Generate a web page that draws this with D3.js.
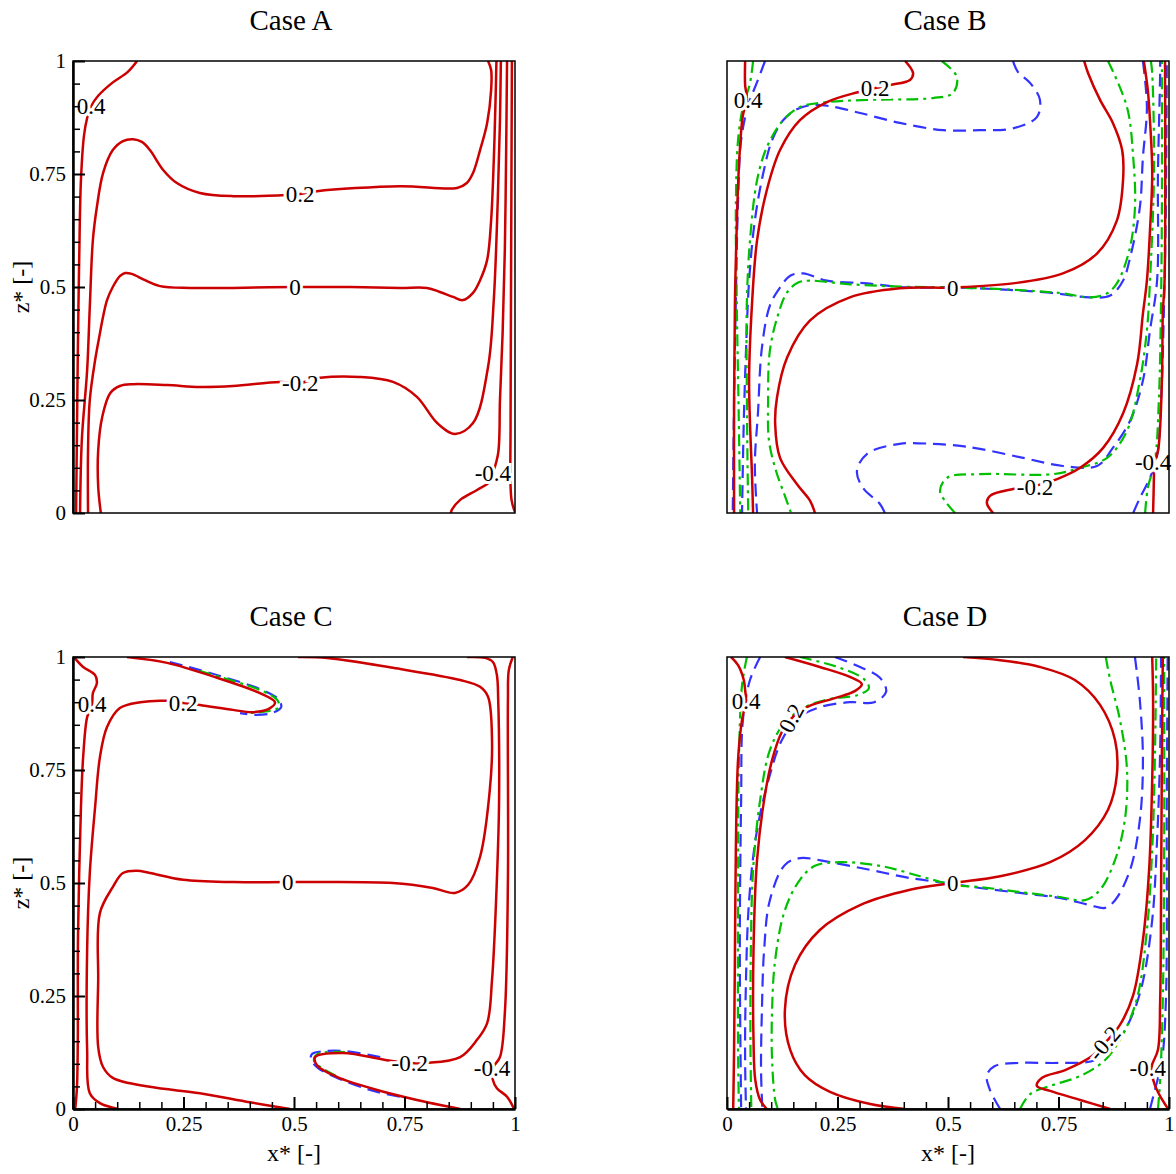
<!DOCTYPE html>
<html>
<head>
<meta charset="utf-8">
<script src="https://cdn.jsdelivr.net/npm/d3@7"></script>
<style>
body { margin: 0; background: #fff; }
text { font-family: "Liberation Serif", "Times New Roman", serif; fill: #000; }
</style>
</head>
<body>
<svg></svg>
<script>
const width = 1176;
const height = 1174;
const plotW = 442;
const plotH = 452;

// each contour is a list of [x*, z*] points
const caseA_red = [
    [[0.145,1],[0.124,0.976],[0.088,0.951],[0.057,0.923],[0.041,0.9],[0.032,0.874],[0.025,0.836],[0.018,0.737],[0.014,0.56],[0.011,0.361],[0.009,0.184],[0.007,0]],
    [[0.016,0],[0.02,0.162],[0.032,0.316],[0.038,0.456],[0.045,0.604],[0.054,0.677],[0.068,0.752],[0.09,0.803],[0.113,0.823],[0.136,0.827],[0.156,0.821],[0.174,0.803],[0.204,0.759],[0.235,0.73],[0.287,0.708],[0.362,0.701],[0.514,0.706],[0.552,0.712],[0.74,0.723],[0.869,0.719],[0.891,0.73],[0.905,0.752],[0.921,0.803],[0.937,0.863],[0.946,0.936],[0.946,0.98],[0.939,1]],
    [[0.034,0],[0.034,0.139],[0.038,0.25],[0.05,0.338],[0.061,0.398],[0.068,0.434],[0.077,0.471],[0.09,0.5],[0.106,0.524],[0.118,0.531],[0.133,0.529],[0.163,0.515],[0.197,0.502],[0.265,0.498],[0.362,0.498],[0.502,0.5],[0.627,0.5],[0.74,0.498],[0.801,0.498],[0.83,0.489],[0.86,0.478],[0.882,0.471],[0.905,0.487],[0.921,0.515],[0.937,0.56],[0.946,0.648],[0.952,0.781],[0.956,0.914],[0.958,1]],
    [[0.063,0],[0.057,0.058],[0.057,0.139],[0.066,0.212],[0.084,0.265],[0.106,0.281],[0.136,0.285],[0.213,0.283],[0.287,0.279],[0.362,0.281],[0.468,0.29],[0.514,0.288],[0.559,0.299],[0.649,0.301],[0.724,0.29],[0.778,0.257],[0.824,0.199],[0.864,0.175],[0.905,0.199],[0.939,0.323],[0.952,0.471],[0.961,0.692],[0.966,0.869],[0.968,1]],
    [[0.855,0],[0.857,0.007],[0.876,0.029],[0.914,0.051],[0.943,0.069],[0.95,0.088],[0.962,0.133],[0.966,0.25],[0.972,0.398],[0.977,0.582],[0.98,0.803],[0.982,1]],
    [[1,0.002],[0.992,0.03],[0.99,0.2],[0.991,0.5],[0.993,1]]
];
const caseA_green = [];
const caseA_blue = [];
const caseA_labels = [['0.4',0.041,0.9,0],['0.2',0.514,0.706,0],['0',0.502,0.5,0],['-0.2',0.514,0.288,0],['-0.4',0.95,0.089,0]];

const caseB_red = [
    [[0.041,1],[0.041,0.947],[0.045,0.914],[0.036,0.88],[0.029,0.803],[0.023,0.67],[0.018,0.47],[0.016,0.248],[0.016,0]],
    [[0.403,1],[0.421,0.973],[0.414,0.958],[0.369,0.947],[0.335,0.94],[0.296,0.931],[0.226,0.909],[0.165,0.869],[0.12,0.803],[0.09,0.714],[0.068,0.603],[0.057,0.47],[0.05,0.293],[0.057,0.071],[0.059,0]],
    [[0.199,0],[0.188,0.027],[0.158,0.064],[0.12,0.122],[0.109,0.197],[0.113,0.255],[0.136,0.344],[0.188,0.426],[0.278,0.477],[0.391,0.497],[0.511,0.499],[0.647,0.508],[0.76,0.53],[0.837,0.574],[0.882,0.647],[0.896,0.736],[0.894,0.803],[0.873,0.863],[0.844,0.914],[0.817,0.973],[0.808,1]],
    [[0.602,0],[0.588,0.022],[0.595,0.038],[0.647,0.053],[0.697,0.06],[0.747,0.075],[0.799,0.1],[0.851,0.144],[0.896,0.22],[0.928,0.33],[0.941,0.441],[0.95,0.514],[0.957,0.625],[0.962,0.752],[0.957,0.869],[0.952,0.936],[0.943,1]],
    [[0.964,0],[0.966,0.086],[0.966,0.111],[0.975,0.137],[0.984,0.293],[0.986,0.441],[0.99,0.514],[0.991,1]]
];
const caseB_green = [
    [[0.059,1],[0.052,0.951],[0.036,0.898],[0.025,0.825],[0.02,0.676],[0.022,0.47],[0.026,0.248],[0.03,0]],
    [[0.486,1],[0.52,0.965],[0.511,0.929],[0.466,0.918],[0.317,0.914],[0.226,0.909],[0.165,0.898],[0.127,0.869],[0.09,0.809],[0.068,0.736],[0.052,0.603],[0.045,0.47],[0.045,0.248],[0.048,0]],
    [[0.862,1],[0.905,0.898],[0.919,0.787],[0.923,0.676],[0.91,0.58],[0.882,0.508],[0.86,0.486],[0.821,0.477],[0.76,0.486],[0.647,0.494],[0.511,0.499],[0.391,0.501],[0.278,0.506],[0.188,0.514],[0.161,0.51],[0.136,0.488],[0.115,0.437],[0.097,0.359],[0.093,0.248],[0.095,0.16],[0.111,0.093],[0.131,0.038],[0.145,0]],
    [[0.516,0],[0.493,0.027],[0.482,0.049],[0.498,0.078],[0.572,0.086],[0.738,0.086],[0.799,0.1],[0.86,0.122],[0.905,0.182],[0.934,0.293],[0.95,0.404],[0.957,0.514],[0.966,0.752],[0.962,0.973],[0.959,1]],
    [[0.946,0],[0.952,0.055],[0.968,0.115],[0.977,0.248],[0.982,0.47],[0.984,0.692],[0.984,1]]
];
const caseB_blue = [
    [[0.086,1],[0.07,0.958],[0.048,0.902],[0.032,0.825],[0.025,0.692],[0.02,0.47],[0.016,0.248],[0.013,0]],
    [[0.647,1],[0.658,0.976],[0.686,0.951],[0.708,0.914],[0.701,0.876],[0.647,0.851],[0.572,0.847],[0.489,0.847],[0.391,0.863],[0.301,0.885],[0.233,0.9],[0.188,0.902],[0.154,0.891],[0.127,0.869],[0.102,0.825],[0.081,0.747],[0.063,0.647],[0.05,0.514],[0.043,0.359],[0.038,0.204],[0.034,0]],
    [[0.941,1],[0.95,0.898],[0.941,0.787],[0.934,0.676],[0.912,0.565],[0.896,0.514],[0.867,0.481],[0.821,0.477],[0.724,0.488],[0.572,0.497],[0.511,0.499],[0.407,0.499],[0.317,0.508],[0.226,0.514],[0.172,0.53],[0.143,0.525],[0.12,0.499],[0.097,0.459],[0.079,0.366],[0.07,0.22],[0.063,0.109],[0.068,0]],
    [[0.357,0],[0.346,0.02],[0.308,0.055],[0.294,0.093],[0.317,0.131],[0.391,0.153],[0.466,0.153],[0.523,0.149],[0.572,0.142],[0.67,0.122],[0.76,0.104],[0.837,0.104],[0.873,0.144],[0.912,0.204],[0.941,0.293],[0.957,0.404],[0.973,0.514],[0.975,0.752],[0.98,0.973],[0.98,1]],
    [[0.919,0],[0.934,0.033],[0.957,0.078],[0.973,0.126],[0.982,0.248],[0.989,0.47],[0.993,0.692],[0.995,1]]
];
const caseB_labels = [['0.4',0.048,0.914,0],['0.2',0.335,0.94,0],['0',0.511,0.499,0],['-0.2',0.697,0.057,0],['-0.4',0.964,0.113,0]];

const caseC_red = [
    [[0.002,1],[0.023,0.978],[0.05,0.96],[0.054,0.942],[0.045,0.92],[0.043,0.896],[0.032,0.867],[0.023,0.779],[0.018,0.668],[0.014,0.522],[0.011,0.352],[0.011,0.175],[0.009,0.049],[0.005,0]],
    [[0.122,1],[0.213,0.987],[0.326,0.954],[0.423,0.92],[0.457,0.9],[0.446,0.887],[0.407,0.878],[0.362,0.883],[0.287,0.894],[0.249,0.898],[0.213,0.903],[0.152,0.9],[0.106,0.887],[0.077,0.845],[0.061,0.779],[0.05,0.668],[0.038,0.522],[0.032,0.352],[0.032,0.131],[0.038,0.035],[0.061,0.013],[0.102,0]],
    [[0.509,1],[0.575,0.998],[0.724,0.976],[0.876,0.949],[0.921,0.934],[0.939,0.912],[0.948,0.816],[0.943,0.706],[0.921,0.558],[0.894,0.496],[0.864,0.478],[0.814,0.489],[0.724,0.5],[0.498,0.502],[0.362,0.502],[0.249,0.507],[0.174,0.522],[0.145,0.527],[0.113,0.522],[0.09,0.491],[0.061,0.434],[0.057,0.285],[0.057,0.137],[0.068,0.093],[0.09,0.069],[0.174,0.049],[0.287,0.035],[0.4,0.015],[0.491,0]],
    [[0.891,1],[0.932,0.998],[0.95,0.989],[0.959,0.96],[0.962,0.905],[0.964,0.684],[0.959,0.507],[0.948,0.285],[0.937,0.19],[0.914,0.153],[0.876,0.115],[0.801,0.102],[0.762,0.102],[0.71,0.108],[0.611,0.124],[0.548,0.115],[0.552,0.097],[0.597,0.071],[0.688,0.042],[0.778,0.02],[0.876,0]],
    [[0.995,1],[0.986,0.971],[0.984,0.905],[0.984,0.507],[0.977,0.212],[0.966,0.115],[0.95,0.091],[0.95,0.064],[0.959,0.046],[0.982,0.027],[0.998,0]]
];
const caseC_green = [
    [[0.287,0.969],[0.428,0.925],[0.462,0.905],[0.466,0.889],[0.446,0.881],[0.4,0.876]],
    [[0.615,0.126],[0.554,0.122],[0.545,0.108],[0.559,0.093],[0.604,0.069]]
];
const caseC_blue = [
    [[0.219,0.989],[0.333,0.958],[0.428,0.927],[0.464,0.907],[0.471,0.889],[0.45,0.876],[0.412,0.872],[0.378,0.876]],
    [[0.695,0.115],[0.615,0.128],[0.57,0.128],[0.541,0.122],[0.538,0.111],[0.554,0.091],[0.593,0.071],[0.672,0.042],[0.74,0.027]]
];
const caseC_labels = [['0.4',0.043,0.896,0],['0.2',0.249,0.898,0],['0',0.486,0.502,0],['-0.2',0.762,0.102,0],['-0.4',0.948,0.091,0]];

const caseD_red = [
    [[0.009,1],[0.025,0.982],[0.038,0.949],[0.041,0.927],[0.043,0.903],[0.034,0.861],[0.025,0.772],[0.02,0.573],[0.018,0.352],[0.016,0.131],[0.014,0]],
    [[0.131,1],[0.21,0.978],[0.278,0.956],[0.305,0.94],[0.29,0.925],[0.244,0.909],[0.192,0.894],[0.161,0.878],[0.143,0.861],[0.124,0.834],[0.102,0.772],[0.084,0.684],[0.068,0.551],[0.06,0.352],[0.06,0.153],[0.064,0.064],[0.075,0.02],[0.09,0]],
    [[0.534,1],[0.618,0.993],[0.708,0.978],[0.787,0.949],[0.844,0.894],[0.878,0.816],[0.882,0.739],[0.862,0.662],[0.81,0.595],[0.731,0.546],[0.618,0.515],[0.511,0.5],[0.414,0.485],[0.301,0.451],[0.21,0.396],[0.154,0.319],[0.131,0.219],[0.143,0.131],[0.176,0.075],[0.233,0.038],[0.324,0.011],[0.403,0]],
    [[0.867,0],[0.799,0.02],[0.731,0.04],[0.701,0.051],[0.713,0.069],[0.765,0.086],[0.826,0.117],[0.855,0.146],[0.889,0.186],[0.919,0.252],[0.941,0.374],[0.955,0.529],[0.962,0.728],[0.964,0.905],[0.962,1]],
    [[0.986,1],[0.984,0.794],[0.982,0.462],[0.98,0.241],[0.975,0.131],[0.96,0.091],[0.968,0.053],[0.985,0.02],[0.998,0]]
];
const caseD_green = [
    [[0.045,1],[0.034,0.937],[0.027,0.772],[0.025,0.462],[0.025,0.131],[0.027,0]],
    [[0.165,1],[0.256,0.976],[0.31,0.951],[0.321,0.931],[0.296,0.916],[0.233,0.907],[0.176,0.889],[0.131,0.856],[0.097,0.794],[0.075,0.684],[0.059,0.529],[0.054,0.352],[0.053,0.153],[0.055,0]],
    [[0.857,1],[0.867,0.949],[0.889,0.861],[0.905,0.75],[0.9,0.639],[0.878,0.551],[0.844,0.485],[0.81,0.462],[0.753,0.469],[0.663,0.48],[0.572,0.491],[0.511,0.496],[0.437,0.515],[0.346,0.538],[0.256,0.546],[0.199,0.538],[0.165,0.507],[0.131,0.44],[0.109,0.33],[0.102,0.219],[0.102,0.108],[0.109,0.02],[0.115,0]],
    [[0.663,0],[0.686,0.033],[0.731,0.051],[0.799,0.073],[0.855,0.108],[0.894,0.162],[0.928,0.246],[0.95,0.396],[0.962,0.573],[0.968,0.772],[0.971,1]],
    [[0.975,0],[0.98,0.064],[0.986,0.241],[0.989,0.573],[0.989,1]]
];
const caseD_blue = [
    [[0.075,1],[0.052,0.949],[0.036,0.861],[0.032,0.684],[0.029,0.352],[0.032,0]],
    [[0.244,1],[0.301,0.978],[0.346,0.954],[0.36,0.923],[0.333,0.9],[0.278,0.9],[0.21,0.889],[0.161,0.865],[0.124,0.816],[0.097,0.739],[0.068,0.617],[0.05,0.462],[0.042,0.241],[0.041,0.108],[0.043,0]],
    [[0.923,1],[0.934,0.905],[0.941,0.772],[0.934,0.639],[0.912,0.529],[0.878,0.462],[0.855,0.445],[0.821,0.451],[0.753,0.467],[0.663,0.478],[0.572,0.489],[0.511,0.498],[0.414,0.511],[0.324,0.529],[0.233,0.546],[0.165,0.555],[0.131,0.54],[0.097,0.462],[0.084,0.352],[0.079,0.219],[0.077,0.086],[0.08,0]],
    [[0.618,0],[0.595,0.042],[0.588,0.075],[0.606,0.095],[0.663,0.102],[0.753,0.102],[0.833,0.108],[0.878,0.142],[0.912,0.197],[0.939,0.274],[0.962,0.418],[0.973,0.595],[0.98,0.794],[0.982,1]],
    [[0.957,0],[0.968,0.042],[0.984,0.108],[0.993,0.241],[0.995,0.684],[0.997,1]]
];
const caseD_labels = [['0.4',0.043,0.903,0],['0.2',0.145,0.865,-62],['0',0.511,0.5,0],['-0.2',0.853,0.146,-50],['-0.4',0.952,0.091,0]];

const majorTicks = [0, 0.25, 0.5, 0.75, 1];
const tickLabels = ['0', '0.25', '0.5', '0.75', '1'];
const minorTicks = [0.05, 0.1, 0.15, 0.2, 0.3, 0.35, 0.4, 0.45, 0.55, 0.6, 0.65, 0.7, 0.8, 0.85, 0.9, 0.95];

const panels = [
    {title: 'Case A', left: 73, top: 61, red: caseA_red, green: caseA_green, blue: caseA_blue, labels: caseA_labels, yAxis: true, xAxis: false},
    {title: 'Case B', left: 727, top: 61, red: caseB_red, green: caseB_green, blue: caseB_blue, labels: caseB_labels, yAxis: false, xAxis: false},
    {title: 'Case C', left: 73, top: 657, red: caseC_red, green: caseC_green, blue: caseC_blue, labels: caseC_labels, yAxis: true, xAxis: true},
    {title: 'Case D', left: 727, top: 657, red: caseD_red, green: caseD_green, blue: caseD_blue, labels: caseD_labels, yAxis: false, xAxis: true}
];

const seriesStyle = [
    {key: 'blue', color: '#3333ff', dash: '13,7', width: 2.2},
    {key: 'green', color: '#00c000', dash: '12,5,3,5', width: 2.2},
    {key: 'red', color: '#cc0000', dash: null, width: 2.5}
];

const svg = d3.select('svg')
    .attr('width', width)
    .attr('height', height);

const serif = '"Liberation Serif", "Times New Roman", serif';

panels.forEach((p, i) => {
    const x = d3.scaleLinear().domain([0, 1]).range([p.left, p.left + plotW]);
    const y = d3.scaleLinear().domain([0, 1]).range([p.top + plotH, p.top]);
    const line = d3.line()
        .x(d => x(d[0]))
        .y(d => y(d[1]))
        .curve(d3.curveCatmullRom.alpha(0.5));

    svg.append('clipPath').attr('id', 'clip' + i)
        .append('rect')
        .attr('x', p.left).attr('y', p.top)
        .attr('width', plotW).attr('height', plotH);

    const g = svg.append('g');
    const lines = g.append('g').attr('clip-path', 'url(#clip' + i + ')');

    seriesStyle.forEach(s => {
        lines.selectAll(null)
            .data(p[s.key])
            .enter().append('path')
            .attr('d', line)
            .attr('fill', 'none')
            .attr('stroke', s.color)
            .attr('stroke-width', s.width)
            .attr('stroke-dasharray', s.dash);
    });

    // contour level labels with a white halo that breaks the lines
    g.selectAll('text.level')
        .data(p.labels)
        .enter().append('text')
        .attr('class', 'level')
        .attr('transform', d => `translate(${x(d[1])},${y(d[2])}) rotate(${d[3]})`)
        .attr('text-anchor', 'middle')
        .attr('dy', '0.35em')
        .attr('font-size', 23)
        .attr('stroke', '#fff')
        .attr('stroke-width', 6)
        .attr('paint-order', 'stroke')
        .text(d => d[0]);

    g.append('rect')
        .attr('x', p.left).attr('y', p.top)
        .attr('width', plotW).attr('height', plotH)
        .attr('fill', 'none')
        .attr('stroke', '#000')
        .attr('stroke-width', 1.5);

    g.append('text')
        .attr('x', p.left + plotW / 2 - 3)
        .attr('y', p.top - 31)
        .attr('text-anchor', 'middle')
        .attr('font-size', 29)
        .text(p.title);

    if (p.yAxis) {
        const major = g.append('g')
            .attr('transform', `translate(${p.left},0)`)
            .call(d3.axisLeft(y).tickValues(majorTicks).tickSizeInner(-12).tickSizeOuter(0)
                .tickPadding(7).tickFormat((d, k) => tickLabels[k]));
        major.attr('font-family', serif).attr('font-size', 21);
        major.select('.domain').attr('stroke-width', 2.5);
        major.selectAll('.tick line').attr('stroke-width', 2);

        const minor = g.append('g')
            .attr('transform', `translate(${p.left},0)`)
            .call(d3.axisLeft(y).tickValues(minorTicks).tickSize(-7).tickFormat(''));
        minor.select('.domain').remove();
        minor.selectAll('.tick line').attr('stroke-width', 1.5);

        g.append('text')
            .attr('transform', `translate(29,${p.top + plotH / 2}) rotate(-90)`)
            .attr('text-anchor', 'middle')
            .attr('font-size', 24)
            .text('z* [-]');
    }

    if (p.xAxis) {
        const major = g.append('g')
            .attr('transform', `translate(0,${p.top + plotH})`)
            .call(d3.axisBottom(x).tickValues(majorTicks).tickSizeInner(-12).tickSizeOuter(0)
                .tickPadding(7).tickFormat((d, k) => tickLabels[k]));
        major.attr('font-family', serif).attr('font-size', 21);
        major.select('.domain').attr('stroke-width', 2.5);
        major.selectAll('.tick line').attr('stroke-width', 2);

        const minor = g.append('g')
            .attr('transform', `translate(0,${p.top + plotH})`)
            .call(d3.axisBottom(x).tickValues(minorTicks).tickSize(-7).tickFormat(''));
        minor.select('.domain').remove();
        minor.selectAll('.tick line').attr('stroke-width', 1.5);

        g.append('text')
            .attr('x', p.left + plotW / 2)
            .attr('y', p.top + plotH + 52)
            .attr('text-anchor', 'middle')
            .attr('font-size', 24)
            .text('x* [-]');
    }
});
</script>
</body>
</html>
